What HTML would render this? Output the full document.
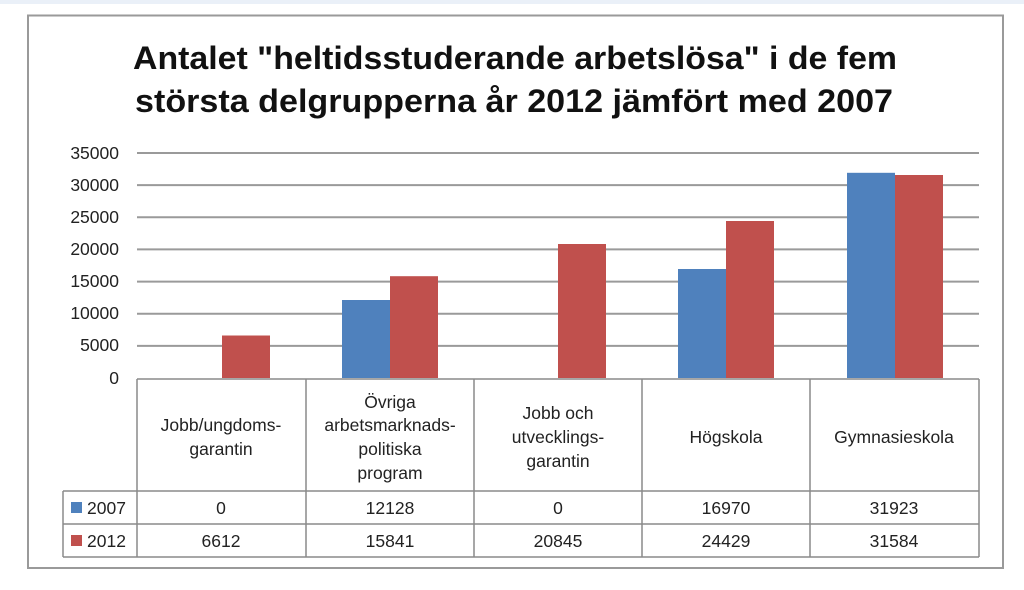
<!DOCTYPE html>
<html><head><meta charset="utf-8"><style>
body{margin:0;background:#fff;}
svg{display:block;font-family:"Liberation Sans","DejaVu Sans",sans-serif;}
</style></head><body>
<svg width="1024" height="590" viewBox="0 0 1024 590" xmlns="http://www.w3.org/2000/svg">
<rect x="0" y="0" width="1024" height="4" fill="#eaf0f8"/>
<rect x="28" y="15.5" width="975" height="552.5" fill="#fff" stroke="#9a9a9a" stroke-width="2"/>
<text x="515" y="69" font-size="32" font-weight="bold" text-anchor="middle" fill="#111" textLength="764" lengthAdjust="spacingAndGlyphs">Antalet "heltidsstuderande arbetslösa" i de fem</text>
<text x="514" y="112" font-size="32" font-weight="bold" text-anchor="middle" fill="#111" textLength="758" lengthAdjust="spacingAndGlyphs">största delgrupperna år 2012 jämfört med 2007</text>
<g stroke="#9a9a9a" stroke-width="2">
<line x1="137" y1="153" x2="979" y2="153"/>
<line x1="137" y1="185.1" x2="979" y2="185.1"/>
<line x1="137" y1="217.3" x2="979" y2="217.3"/>
<line x1="137" y1="249.4" x2="979" y2="249.4"/>
<line x1="137" y1="281.6" x2="979" y2="281.6"/>
<line x1="137" y1="313.7" x2="979" y2="313.7"/>
<line x1="137" y1="345.9" x2="979" y2="345.9"/>
</g>
<g font-size="17.5" fill="#222" text-anchor="end">
<text x="119" y="159">35000</text>
<text x="119" y="191">30000</text>
<text x="119" y="223">25000</text>
<text x="119" y="255">20000</text>
<text x="119" y="287">15000</text>
<text x="119" y="319">10000</text>
<text x="119" y="351">5000</text>
<text x="119" y="384">0</text>
</g>
<g fill="#c0504d">
<rect x="222" y="335.5" width="48" height="42.5"/>
<rect x="390" y="276.2" width="48" height="101.8"/>
<rect x="558" y="244" width="48" height="134"/>
<rect x="726" y="221" width="48" height="157"/>
<rect x="895" y="175" width="48" height="203"/>
</g>
<g fill="#4f81bd">
<rect x="342" y="300" width="48" height="78"/>
<rect x="678" y="269" width="48" height="109"/>
<rect x="847" y="172.8" width="48" height="205.2"/>
</g>
<g stroke="#8a8a8a" stroke-width="1.5" fill="none">
<line x1="137" y1="379" x2="979" y2="379"/>
<line x1="137" y1="379" x2="137" y2="557"/>
<line x1="306" y1="379" x2="306" y2="557"/>
<line x1="474" y1="379" x2="474" y2="557"/>
<line x1="642" y1="379" x2="642" y2="557"/>
<line x1="810" y1="379" x2="810" y2="557"/>
<line x1="979" y1="379" x2="979" y2="557"/>
<line x1="63" y1="491" x2="979" y2="491"/>
<line x1="63" y1="524" x2="979" y2="524"/>
<line x1="63" y1="557" x2="979" y2="557"/>
<line x1="63" y1="491" x2="63" y2="557"/>
</g>
<g font-size="17.5" fill="#222" text-anchor="middle">
<text x="221" y="431">Jobb/ungdoms-</text>
<text x="221" y="455">garantin</text>
<text x="390" y="408">Övriga</text>
<text x="390" y="431">arbetsmarknads-</text>
<text x="390" y="455">politiska</text>
<text x="390" y="479">program</text>
<text x="558" y="419">Jobb och</text>
<text x="558" y="443">utvecklings-</text>
<text x="558" y="467">garantin</text>
<text x="726" y="443">Högskola</text>
<text x="894" y="443">Gymnasieskola</text>
<text x="221" y="514">0</text>
<text x="390" y="514">12128</text>
<text x="558" y="514">0</text>
<text x="726" y="514">16970</text>
<text x="894" y="514">31923</text>
<text x="221" y="547">6612</text>
<text x="390" y="547">15841</text>
<text x="558" y="547">20845</text>
<text x="726" y="547">24429</text>
<text x="894" y="547">31584</text>
</g>
<rect x="71" y="502" width="11" height="11" fill="#4f81bd"/>
<rect x="71" y="535" width="11" height="11" fill="#c0504d"/>
<g font-size="17.5" fill="#222">
<text x="87" y="514">2007</text>
<text x="87" y="547">2012</text>
</g>
</svg>
</body></html>
